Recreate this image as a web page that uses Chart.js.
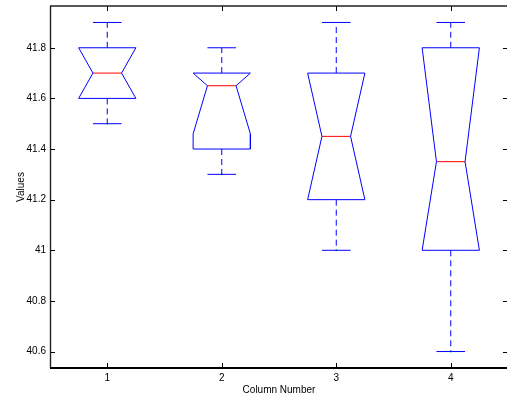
<!DOCTYPE html>
<html>
<head>
<meta charset="utf-8">
<script src="https://cdn.jsdelivr.net/npm/chart.js@4/dist/chart.umd.min.js"></script>
<style>
  html, body { margin: 0; padding: 0; background: #fff; overflow: hidden; }
  #wrap { width: 508px; height: 396px; }
</style>
</head>
<body>
<div id="wrap"><canvas id="chart" width="508" height="396"></canvas></div>
<script>
// ===============================
// Data
// ===============================
const columns = [1, 2, 3, 4];
const lowWhisker = [41.5, 41.3, 41.0, 40.6];
const q1 = [41.6, 41.4, 41.2, 41.0];
const median = [41.7, 41.65, 41.45, 41.35];
const q3 = [41.8, 41.7, 41.7, 41.8];
const highWhisker = [41.9, 41.8, 41.9, 41.9];
// notch limits, already clipped to the box
const notchLow = [41.6, 41.46, 41.2, 41.0];
const notchHigh = [41.8, 41.7, 41.7, 41.8];

const yTicks = [40.6, 40.8, 41.0, 41.2, 41.4, 41.6, 41.8];
const xTicks = [1, 2, 3, 4];

const BLUE = '#0000ff';
const RED = '#ff0000';
const HALF = 0.25;   // half box width
const NOTCH = 0.125; // half notch width

// ===============================
// Build datasets
// ===============================
const datasets = [];

function seg(points, color, dash) {
    datasets.push({
        data: points,
        showLine: true,
        borderColor: color,
        borderWidth: 1,
        borderDash: dash || [],
        pointRadius: 0,
        fill: false,
        tension: 0
    });
}

columns.forEach((c, i) => {
    // notched box outline
    seg([
        {x: c - HALF, y: q3[i]},
        {x: c + HALF, y: q3[i]},
        {x: c + HALF, y: notchHigh[i]},
        {x: c + NOTCH, y: median[i]},
        {x: c + HALF, y: notchLow[i]},
        {x: c + HALF, y: q1[i]},
        {x: c - HALF, y: q1[i]},
        {x: c - HALF, y: notchLow[i]},
        {x: c - NOTCH, y: median[i]},
        {x: c - HALF, y: notchHigh[i]},
        {x: c - HALF, y: q3[i]}
    ], BLUE);

    // whiskers
    seg([{x: c, y: q3[i]}, {x: c, y: highWhisker[i]}], BLUE, [6, 4]);
    seg([{x: c, y: q1[i]}, {x: c, y: lowWhisker[i]}], BLUE, [6, 4]);

    // caps
    seg([{x: c - NOTCH, y: highWhisker[i]}, {x: c + NOTCH, y: highWhisker[i]}], BLUE);
    seg([{x: c - NOTCH, y: lowWhisker[i]}, {x: c + NOTCH, y: lowWhisker[i]}], BLUE);

    // median
    seg([{x: c - NOTCH, y: median[i]}, {x: c + NOTCH, y: median[i]}], RED);
});

// little green markers at the lower whisker ends
datasets.push({
    data: columns.map((c, i) => ({x: c, y: lowWhisker[i]})),
    showLine: false,
    pointRadius: 1,
    pointBorderWidth: 0,
    pointBackgroundColor: '#00ff00'
});

// ===============================
// Frame with inward ticks (MATLAB look)
// ===============================
const framePlugin = {
    id: 'frame',
    afterDraw(chart) {
        const {ctx, chartArea: a, scales} = chart;
        const L = 5;
        ctx.save();
        ctx.strokeStyle = '#000';
        ctx.lineWidth = 1;
        ctx.beginPath();
        xTicks.forEach(v => {
            const px = Math.round(scales.x.getPixelForValue(v)) + 0.5;
            ctx.moveTo(px, a.bottom);
            ctx.lineTo(px, a.bottom - L);
            ctx.moveTo(px, a.top);
            ctx.lineTo(px, a.top + L);
        });
        yTicks.forEach(v => {
            const py = Math.round(scales.y.getPixelForValue(v)) + 0.5;
            ctx.moveTo(a.left, py);
            ctx.lineTo(a.left + L, py);
            ctx.moveTo(a.right, py);
            ctx.lineTo(a.right - L, py);
        });
        ctx.stroke();

        // box lines
        ctx.strokeStyle = '#222';
        ctx.lineWidth = 1.4;
        ctx.beginPath();
        ctx.moveTo(a.left, a.top);
        ctx.lineTo(a.right + 2, a.top);
        ctx.moveTo(a.left + 0.5, a.top);
        ctx.lineTo(a.left + 0.5, a.bottom);
        ctx.stroke();

        ctx.strokeStyle = '#000';
        ctx.lineWidth = 2;
        ctx.beginPath();
        ctx.moveTo(a.left, a.bottom);
        ctx.lineTo(a.right, a.bottom);
        ctx.stroke();
        ctx.restore();
    }
};

const font = {family: "'Liberation Sans', Arial, Helvetica, sans-serif", size: 10};

new Chart(document.getElementById('chart').getContext('2d'), {
    type: 'scatter',
    data: {datasets: datasets},
    plugins: [framePlugin],
    options: {
        responsive: false,
        animation: false,
        devicePixelRatio: 1,
        layout: {autoPadding: false, padding: {top: 6, right: 0, left: 0, bottom: 0}},
        plugins: {legend: {display: false}, tooltip: {enabled: false}},
        scales: {
            x: {
                type: 'linear',
                min: 0.5,
                max: 4.5,
                afterBuildTicks: s => { s.ticks = xTicks.map(v => ({value: v})); },
                afterFit: s => { s.height = 28; s.paddingLeft = 0; s.paddingRight = 0; },
                grid: {display: false, drawTicks: false},
                border: {display: false},
                ticks: {color: '#000', font: font, padding: 4, maxRotation: 0,
                        callback: v => String(v)},
                title: {display: true, text: 'Column Number', color: '#000', font: font,
                        padding: {top: 0, bottom: 0}}
            },
            y: {
                type: 'linear',
                min: 40.535,
                max: 41.965,
                afterBuildTicks: s => { s.ticks = yTicks.map(v => ({value: v})); },
                afterFit: s => { s.width = 50; s.paddingTop = 0; s.paddingBottom = 0; },
                grid: {display: false, drawTicks: false},
                border: {display: false},
                ticks: {color: '#000', font: font, padding: 4,
                        callback: v => String(parseFloat(v.toFixed(1)))},
                title: {display: true, text: 'Values', color: '#000', font: font,
                        padding: {top: 15, bottom: 0}}
            }
        }
    }
});
</script>
</body>
</html>
